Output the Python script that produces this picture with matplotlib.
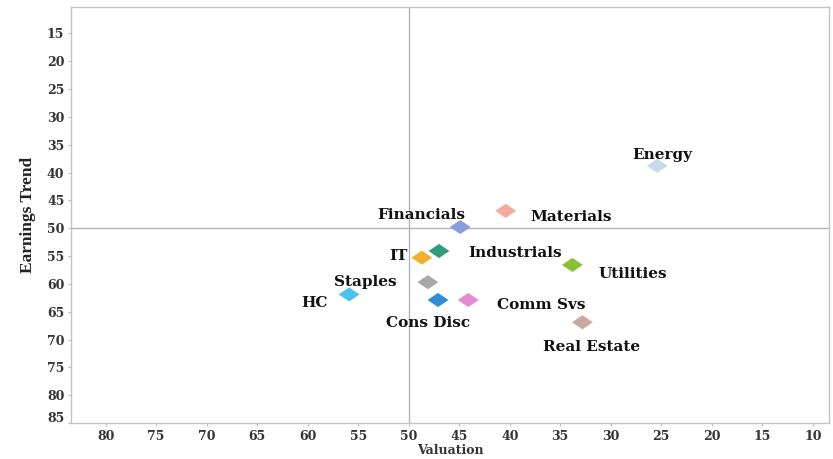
import matplotlib
matplotlib.use("Agg")
import matplotlib.pyplot as plt
from matplotlib.path import Path
from matplotlib.transforms import ScaledTranslation

# Sector positioning: valuation score vs earnings-trend score
sectors = ["Energy", "Materials", "Financials", "Industrials", "IT", "Utilities",
           "Staples", "HC", "Cons Disc", "Comm Svs", "Real Estate"]
valuation = [25.4, 40.4, 44.9, 47.0, 48.7, 33.8, 48.1, 55.9, 47.1, 44.1, 32.8]
earnings = [38.8, 46.9, 49.8, 54.1, 55.3, 56.6, 59.7, 61.9, 62.9, 62.9, 66.9]
colors = ["#c9dce6", "#f4aa9c", "#8c9ae0", "#2f9a7e", "#f2b030", "#88c03c",
          "#a8a8a8", "#4cc2ef", "#2e8ed6", "#e58bd5", "#cba89f"]

# label placement: (dx, dy) in points, horizontal alignment
label_pos = {
    "Energy": ((3.6, 7.5), "center"),
    "Materials": ((18, -4.5), "left"),
    "Financials": ((4, 8.5), "right"),
    "Industrials": ((21, -1.4), "left"),
    "IT": ((-10, 1.2), "right"),
    "Utilities": ((18.7, -6.7), "left"),
    "Staples": ((-22.5, 0), "right"),
    "HC": ((-15, -6), "right"),
    "Cons Disc": ((-7.4, -16.8), "center"),
    "Comm Svs": ((20.4, -3.8), "left"),
    "Real Estate": ((6.6, -17.5), "center"),
}

x_ticks = [80, 75, 70, 65, 60, 55, 50, 45, 40, 35, 30, 25, 20, 15, 10]
y_ticks = [15, 20, 25, 30, 35, 40, 45, 50, 55, 60, 65, 70, 75, 80, 85]

diamond = Path([(-1, 0), (0, 0.68), (1, 0), (0, -0.68), (-1, 0)],
               [Path.MOVETO, Path.LINETO, Path.LINETO, Path.LINETO, Path.CLOSEPOLY])

fig = plt.figure(figsize=(8.33, 4.59), dpi=100)
ax = fig.add_axes([0.0856, 0.0784, 0.91, 0.9066])

ax.axvline(50, color="#b4b4b4", lw=1.0, zorder=1)
ax.axhline(50, color="#b4b4b4", lw=1.0, zorder=1)

for name, xv, yv, c in zip(sectors, valuation, earnings, colors):
    ax.scatter([xv], [yv], s=15 ** 2, marker=diamond, color=c, edgecolors="none", zorder=3)
    (dx, dy), ha = label_pos[name]
    ax.annotate(name, (xv, yv), xytext=(dx, dy), textcoords="offset points",
                ha=ha, va="center", fontsize=11, fontweight="bold",
                family="DejaVu Serif", color="#111111", zorder=4)

ax.set_xlim(83.4, 8.36)
ax.set_ylim(85, 10.25)
ax.set_xticks(x_ticks)
ax.set_yticks(y_ticks)
ax.set_xticklabels([str(v) for v in x_ticks])
ax.set_yticklabels([str(v) for v in y_ticks])

ax.tick_params(axis="both", length=2.5, width=0.8, color="#bdbdbd", pad=2.5)

for lbl in ax.get_xticklabels() + ax.get_yticklabels():
    lbl.set_family("DejaVu Serif")
    lbl.set_fontweight("bold")
    lbl.set_fontsize(9)
    lbl.set_color("#333333")

# bottom y tick label sits just above the x axis
last = ax.get_yticklabels()[-1]
last.set_transform(last.get_transform() + ScaledTranslation(0, 6 / 100, fig.dpi_scale_trans))

for sp in ax.spines.values():
    sp.set_color("#c4c4c4")
    sp.set_linewidth(1.0)

ax.set_xlabel("Valuation", family="DejaVu Serif", fontweight="bold",
              fontsize=9, color="#333333", labelpad=1)
ax.set_ylabel("Earnings Trend", family="Liberation Serif", fontweight="bold",
              fontsize=12.5, color="#222222", labelpad=8)

fig.savefig("out.png", dpi=100, facecolor="white")
